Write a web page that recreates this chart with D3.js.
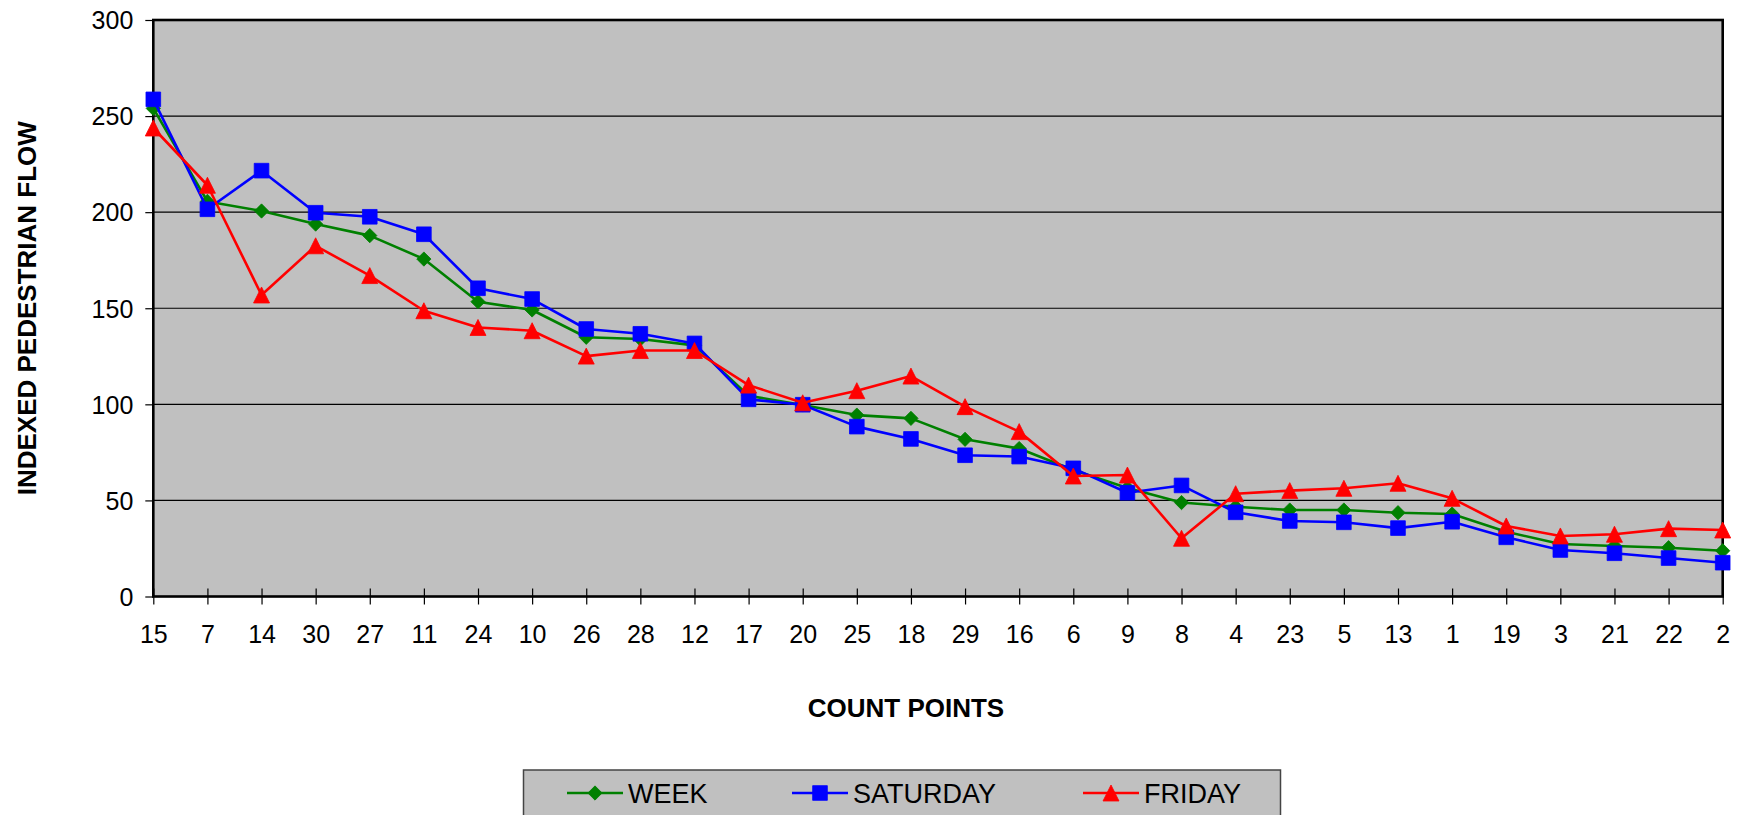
<!DOCTYPE html>
<html>
<head>
<meta charset="utf-8">
<script src="https://cdn.jsdelivr.net/npm/d3@7/dist/d3.min.js"></script>
<style>
  html, body { margin: 0; padding: 0; background: #ffffff; }
  svg { display: block; }
  text { font-family: "Liberation Sans", Arial, sans-serif; fill: #000; }
</style>
</head>
<body>
<svg id="chart" width="1744" height="815"></svg>
<script>
const categories = ["15","7","14","30","27","11","24","10","26","28","12","17","20","25","18","29","16","6","9","8","4","23","5","13","1","19","3","21","22","2"];
const week = [254, 205.6, 200.6, 193.8, 187.8, 175.6, 153.4, 149.1, 134.9, 134, 130.7, 104.5, 99.7, 94.4, 92.7, 81.8, 77, 65.8, 56.5, 48.9, 46.7, 45, 45, 43.6, 42.9, 33.7, 27.3, 26.3, 25.4, 23.8];
const saturday = [258.7, 201.5, 221.6, 199.7, 197.6, 188.5, 160.4, 154.8, 139.2, 136.7, 131.7, 102.6, 99.8, 88.4, 82, 73.5, 72.8, 66.7, 54, 57.8, 43.8, 39.3, 38.6, 35.6, 38.9, 30.8, 24.2, 22.5, 20, 17.6];
const friday = [243.8, 214, 156.9, 182.5, 167, 148.7, 140, 138.3, 125.1, 128, 128, 110, 100.8, 107.1, 114.7, 98.8, 85.8, 62.7, 63.2, 30.3, 53.5, 55.1, 56.3, 58.9, 51.1, 36.7, 31.5, 32.4, 35.3, 34.6];
const yTicks = [0, 50, 100, 150, 200, 250, 300];
const seriesNames = ["WEEK", "SATURDAY", "FRIDAY"];

const series = [
  { name: seriesNames[0], values: week, color: "#008000", shape: "diamond" },
  { name: seriesNames[1], values: saturday, color: "#0000FF", shape: "square" },
  { name: seriesNames[2], values: friday, color: "#FF0000", shape: "triangle" }
];

const svg = d3.select("#chart");
const pLeft = 153.3, pRight = 1722.7, pTop = 20, pBottom = 596.5;

const x = d3.scalePoint().domain(categories).range([pLeft, pRight]);
const y = d3.scaleLinear().domain([0, 300]).range([pBottom, pTop]);

// plot background
svg.append("rect")
  .attr("x", pLeft).attr("y", pTop)
  .attr("width", pRight - pLeft).attr("height", pBottom - pTop)
  .attr("fill", "#C0C0C0");

// gridlines
svg.append("g").selectAll("line")
  .data(yTicks.filter(t => t > 0 && t < 300))
  .join("line")
  .attr("x1", pLeft).attr("x2", pRight)
  .attr("y1", d => y(d)).attr("y2", d => y(d))
  .attr("stroke", "#000").attr("stroke-width", 1.2);

// y axis
const yAxis = svg.append("g")
  .attr("transform", `translate(${pLeft},0)`)
  .call(d3.axisLeft(y).tickValues(yTicks).tickSize(8).tickSizeOuter(0).tickPadding(12));
yAxis.select(".domain").remove();
yAxis.selectAll(".tick line").attr("stroke", "#000").attr("stroke-width", 1.2);
yAxis.selectAll(".tick text")
  .attr("font-size", 25).attr("font-family", "'Liberation Sans', Arial, sans-serif")
  .attr("dy", "0.35em");

// x axis
const xAxis = svg.append("g")
  .attr("transform", `translate(0,${pBottom})`)
  .call(d3.axisBottom(x).tickSize(8).tickSizeOuter(0).tickPadding(21));
xAxis.select(".domain").remove();
xAxis.selectAll(".tick line")
  .attr("y1", -8).attr("y2", 8)
  .attr("stroke", "#000").attr("stroke-width", 1.2);
xAxis.selectAll(".tick text")
  .attr("font-size", 25).attr("font-family", "'Liberation Sans', Arial, sans-serif");

// plot border
svg.append("rect")
  .attr("x", pLeft).attr("y", pTop)
  .attr("width", pRight - pLeft).attr("height", pBottom - pTop)
  .attr("fill", "none").attr("stroke", "#000").attr("stroke-width", 2.6);

// symbols
function symbolFor(shape) {
  if (shape === "diamond") return d3.symbol().type(d3.symbolDiamond2).size(130);
  if (shape === "square") return d3.symbol().type(d3.symbolSquare).size(215);
  return null;
}
function drawMarker(g, shape, cx, cy, color) {
  if (shape === "triangle") {
    const w = 16, h = 16;
    g.append("path")
      .attr("d", `M${cx},${cy - h / 2}L${cx + w / 2},${cy + h / 2}L${cx - w / 2},${cy + h / 2}Z`)
      .attr("fill", color).attr("stroke", color).attr("stroke-width", 0.8);
  } else {
    g.append("path")
      .attr("d", symbolFor(shape)())
      .attr("transform", `translate(${cx},${cy})`)
      .attr("fill", color).attr("stroke", color).attr("stroke-width", 0.8);
  }
}

const line = d3.line().x((d, i) => x(categories[i])).y(d => y(d));

series.forEach(s => {
  const g = svg.append("g");
  g.append("path")
    .datum(s.values)
    .attr("d", line)
    .attr("fill", "none")
    .attr("stroke", s.color)
    .attr("stroke-width", 2.6)
    .attr("stroke-linejoin", "round");
  s.values.forEach((v, i) => drawMarker(g, s.shape, x(categories[i]), y(v), s.color));
});

// axis titles
svg.append("text")
  .attr("x", 906).attr("y", 717)
  .attr("text-anchor", "middle")
  .attr("font-size", 26).attr("font-weight", "bold")
  .text("COUNT POINTS");

svg.append("text")
  .attr("transform", `translate(35.5,${(pTop + pBottom) / 2}) rotate(-90)`)
  .attr("text-anchor", "middle")
  .attr("font-size", 26).attr("font-weight", "bold")
  .text("INDEXED PEDESTRIAN FLOW");

// legend
const legend = svg.append("g");
legend.append("rect")
  .attr("x", 523.5).attr("y", 770)
  .attr("width", 757).attr("height", 70)
  .attr("fill", "#C0C0C0").attr("stroke", "#444").attr("stroke-width", 1.5);

const legendX = [567, 792, 1083];
const legendY = 793;
series.forEach((s, i) => {
  const lx = legendX[i];
  legend.append("line")
    .attr("x1", lx).attr("x2", lx + 56)
    .attr("y1", legendY).attr("y2", legendY)
    .attr("stroke", s.color).attr("stroke-width", 2.6);
  drawMarker(legend, s.shape, lx + 28, legendY, s.color);
  legend.append("text")
    .attr("x", lx + 61).attr("y", legendY)
    .attr("dy", "0.36em")
    .attr("font-size", 27)
    .text(s.name);
});
</script>
</body>
</html>
